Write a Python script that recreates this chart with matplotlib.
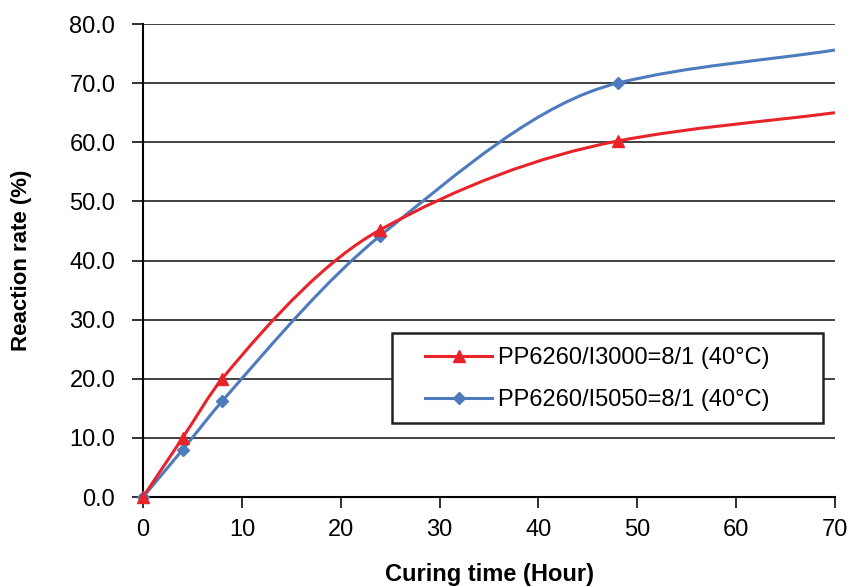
import numpy as np
import matplotlib.pyplot as plt
from matplotlib.path import Path
from matplotlib.patches import PathPatch, Rectangle
from matplotlib.lines import Line2D

plt.rcParams['font.family'] = ['Liberation Sans', 'DejaVu Sans']

hours = [0, 4, 8, 24, 48, 70]
rate_i3000 = [0.0, 10.0, 20.0, 45.2, 60.2, 65.0]
rate_i5050 = [0.0, 8.0, 16.2, 44.2, 70.0, 75.6]
label_i3000 = 'PP6260/I3000=8/1 (40°C)'
label_i5050 = 'PP6260/I5050=8/1 (40°C)'


def smooth_path(x, y):
    # smoothed line drawn as cubic beziers through the points (pchip-style tangents)
    x = np.asarray(x, float)
    y = np.asarray(y, float)
    n = len(x)
    h = np.diff(x)
    d = np.diff(y) / h
    m = np.empty(n)
    m[0] = d[0]
    m[-1] = d[-1]
    for i in range(1, n - 1):
        w1 = 2 * h[i] + h[i - 1]
        w2 = h[i] + 2 * h[i - 1]
        m[i] = (w1 + w2) / (w1 / d[i - 1] + w2 / d[i])
    verts = [(x[0], y[0])]
    codes = [Path.MOVETO]
    for i in range(n - 1):
        s = h[i] / 3
        verts += [(x[i] + s, y[i] + s * m[i]),
                  (x[i + 1] - s, y[i + 1] - s * m[i + 1]),
                  (x[i + 1], y[i + 1])]
        codes += [Path.CURVE4] * 3
    return Path(verts, codes)


red = '#e8242a'
blue = '#4d7bbd'

fig = plt.figure(figsize=(8.55, 5.87), dpi=100)
ax = fig.add_axes([0.1673, 0.1533, 0.8093, 0.8058])

for ys, col in [(rate_i5050, blue), (rate_i3000, red)]:
    ax.add_patch(PathPatch(smooth_path(hours, ys), fill=False, edgecolor=col,
                           lw=2.2, transform=ax.transData, zorder=3))

ax.plot(hours[:-1], rate_i5050[:-1], linestyle='none', marker='D', ms=6,
        color=blue, zorder=4, clip_on=False)
ax.plot(hours[:-1], rate_i3000[:-1], linestyle='none', marker='^', ms=9,
        color=red, zorder=5, clip_on=False)

ax.set_xlim(0, 70)
ax.set_ylim(0, 80)
ax.set_xticks(range(0, 71, 10))
ax.set_yticks(range(0, 81, 10))
ax.set_yticklabels([f'{v:.1f}' for v in range(0, 81, 10)])
ax.tick_params(labelsize=17, length=8, width=1.3, color='#222222')
ax.tick_params(axis='y', pad=12)
ax.tick_params(axis='x', pad=8)
ax.yaxis.grid(True, color='#333333', lw=1.3)
ax.set_axisbelow(True)
for s in ['top', 'right']:
    ax.spines[s].set_visible(False)
ax.spines['left'].set_linewidth(1.5)
ax.spines['bottom'].set_linewidth(1.5)

ax.set_xlabel('Curing time (Hour)', fontsize=17, fontweight='bold')
ax.set_ylabel('Reaction rate (%)', fontsize=16, fontweight='bold')
ax.xaxis.set_label_coords(0.5, -0.14)
ax.yaxis.set_label_coords(-0.16, 0.5)

# legend frame
ax.add_patch(Rectangle((0.36, 0.156), 0.623, 0.191, transform=ax.transAxes,
                       facecolor='white', edgecolor='#222222', lw=1.8,
                       zorder=6, clip_on=False))
handles = [Line2D([], [], color=red, lw=2.2, marker='^', ms=9),
           Line2D([], [], color=blue, lw=2.2, marker='D', ms=6)]
leg = ax.legend(handles, [label_i3000, label_i5050], loc='center left',
                bbox_to_anchor=(0.4075, 0.249), fontsize=17, frameon=False,
                borderpad=0, borderaxespad=0, handlelength=2.85,
                handletextpad=0.25, labelspacing=0.85, numpoints=1)
leg.set_zorder(7)

fig.savefig('out.png', dpi=100)
